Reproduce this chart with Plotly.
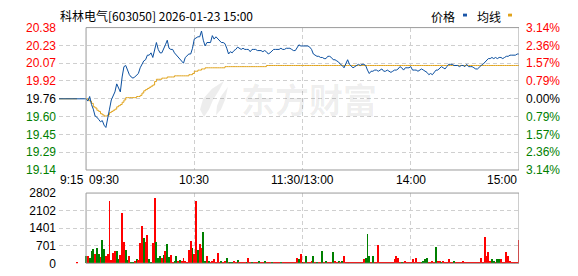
import plotly.graph_objects as go
import numpy as np

prev_close = 19.76
minutes = list(range(241))  # 0 = 09:30 ... 120 = 11:30/13:00 ... 240 = 15:00

price = [
    19.76, 19.74, 19.78, 19.71, 19.67, 19.61, 19.60, 19.58, 19.56, 19.57,
    19.53, 19.51, 19.58, 19.67, 19.75, 19.78, 19.82, 19.89, 19.86, 19.82,
    19.95, 20.04, 20.05, 20.01, 19.97, 19.95, 19.94, 19.95, 19.97, 19.98,
    20.03, 20.06, 20.09, 20.10, 20.14, 20.14, 20.16, 20.12, 20.19, 20.25,
    20.19, 20.16, 20.16, 20.19, 20.23, 20.27, 20.20, 20.19, 20.19, 20.16,
    20.14, 20.12, 20.11, 20.09, 20.07, 20.12, 20.14, 20.15, 20.15, 20.20,
    20.28, 20.29, 20.30, 20.30, 20.35, 20.27, 20.22, 20.25, 20.25, 20.25,
    20.31, 20.28, 20.30, 20.28, 20.27, 20.25, 20.25, 20.24, 20.20, 20.15,
    20.17, 20.16, 20.18, 20.19, 20.21, 20.20, 20.19, 20.20, 20.19, 20.19,
    20.19, 20.17, 20.19, 20.19, 20.19, 20.18, 20.18, 20.18, 20.17, 20.18,
    20.17, 20.15, 20.16, 20.18, 20.19, 20.19, 20.19, 20.19, 20.20, 20.19,
    20.19, 20.20, 20.20, 20.20, 20.19, 20.18, 20.18, 20.20, 20.23, 20.22,
    20.22, 20.22, 20.22, 20.22, 20.21, 20.19, 20.15, 20.14, 20.13, 20.13,
    20.12, 20.12, 20.11, 20.11, 20.13, 20.13, 20.12, 20.10, 20.10, 20.09,
    20.08, 20.06, 20.05, 20.03, 20.07, 20.10, 20.06, 20.04, 20.03, 20.04,
    20.05, 20.06, 20.05, 20.06, 20.06, 20.05, 20.01, 19.98, 20.00, 20.00,
    20.01, 20.01, 20.00, 20.01, 20.02, 20.00, 20.00, 20.01, 20.00, 19.99,
    20.00, 20.01, 20.01, 20.02, 20.04, 20.03, 20.01, 20.03, 20.03, 20.03,
    20.04, 20.01, 20.01, 20.01, 20.00, 20.01, 20.02, 20.01, 20.00, 19.99,
    19.97, 19.98, 19.97, 19.99, 20.01, 20.01, 20.03, 20.04, 20.03, 20.02,
    20.04, 20.06, 20.06, 20.06, 20.05, 20.05, 20.05, 20.04, 20.05, 20.05,
    20.04, 20.06, 20.04, 20.04, 20.04, 20.03, 20.02, 20.02, 20.04, 20.05,
    20.06, 20.08, 20.10, 20.11, 20.11, 20.12, 20.11, 20.12, 20.11, 20.12,
    20.12, 20.11, 20.12, 20.13, 20.13, 20.14, 20.14, 20.14, 20.14, 20.15,
    20.15,
]

avg = [
    19.76, 19.75, 19.74, 19.72, 19.69, 19.68, 19.66, 19.65, 19.63, 19.62,
    19.61, 19.61, 19.62, 19.64, 19.65, 19.66, 19.67, 19.69, 19.70, 19.71,
    19.73, 19.75, 19.77, 19.77, 19.77, 19.77, 19.77, 19.77, 19.78, 19.78,
    19.79, 19.81, 19.83, 19.84, 19.85, 19.86, 19.87, 19.88, 19.91, 19.93,
    19.93, 19.93, 19.94, 19.94, 19.94, 19.95, 19.95, 19.95, 19.95, 19.96,
    19.96, 19.96, 19.96, 19.96, 19.96, 19.96, 19.96, 19.97, 19.97, 19.98,
    20.00, 20.00, 20.01, 20.01, 20.02, 20.02, 20.03, 20.03, 20.03, 20.03,
    20.03, 20.03, 20.03, 20.03, 20.03, 20.03, 20.03, 20.04, 20.04, 20.04,
    20.04, 20.04, 20.04, 20.04, 20.04, 20.04, 20.04, 20.04, 20.04, 20.04,
    20.04, 20.04, 20.04, 20.04, 20.04, 20.04, 20.04, 20.04, 20.04, 20.04,
] + [20.05] * 141

vol = [
    278, 278, 227, 505, 555, 353, 606, 379, 252, 947,
    568, 303, 379, 2499, 126, 416, 505, 505, 151, 315,
    2019, 846, 530, 126, 300, 50, 50, 100, 151, 126,
    808, 1476, 1010, 833, 1136, 164, 63, 795, 2587, 833,
    190, 278, 190, 315, 505, 757, 252, 315, 63, 100,
    278, 100, 126, 100, 190, 100, 63, 530, 883, 618,
    379, 2474, 530, 757, 606, 1262, 100, 278, 100, 50,
    100, 151, 50, 416, 25, 100, 50, 100, 227, 50,
    50, 50, 100, 50, 126, 50, 50, 50, 50, 50,
    215, 50, 38, 50, 38, 50, 76, 38, 50, 76,
    38, 50, 38, 38, 50, 38, 38, 50, 38, 50,
    38, 38, 50, 38, 38, 50, 38, 227, 151, 379,
    50, 38, 278, 38, 50, 100, 303, 38, 63, 38,
    38, 480, 38, 100, 50, 38, 38, 454, 100, 38,
    100, 38, 100, 303, 38, 25, 38, 38, 38, 38,
    25, 38, 38, 38, 151, 227, 1161, 278, 25, 303,
    25, 38, 732, 38, 38, 38, 38, 38, 38, 38,
    38, 151, 303, 227, 38, 38, 25, 100, 38, 38,
    25, 151, 25, 227, 38, 38, 38, 100, 177, 227,
    38, 38, 100, 38, 631, 100, 100, 38, 100, 38,
    38, 151, 38, 38, 100, 38, 38, 38, 38, 76,
    38, 38, 38, 38, 38, 38, 38, 38, 38, 227,
    38, 1035, 278, 454, 100, 151, 100, 38, 151, 151,
    151, 38, 38, 429, 278, 100, 38, 38, 38, 38,
    947,
]

# r = up minute, g = down minute
updown = (
    "grgggrggrg" "grrrrrrggr" "rrggrggrgr" "rrgrrggrrg" "ggrgrggrrg"
    "grgrrrrrrg" "rrgrrggrgr" "rrrrrgrrgr" "ggrrgrrrrg" "rrgrrrgrrg"
    "rrrgrrrrgr" "rrrrrrrrgr" "grgrrrgrgr" "rgrgrrrgrr" "grgrrrrrrr"
    "rrrrrgggrg" "rrrrrrrrrr" "rrrrrgrrrr" "rrrrrrgggg" "rrrrgrrgrr"
    "rrrrgrrrrr" "rrrrrrrrrr" "rrrrrggrgg" "rrrrrrrrrr" "r"
)

pre_t = [-15]            # 09:15 call auction start
pre_price = [prev_close]
pre_avg_t = [-15, -5]
pre_avg = [prev_close, prev_close]
auction_t = [-5]         # 09:25
auction_vol = [38]

y_labels = ["20.38", "20.23", "20.07", "19.92", "19.76", "19.60", "19.45", "19.29", "19.14"]
pct_labels = ["3.14%", "2.36%", "1.57%", "0.79%", "0.00%", "0.79%", "1.57%", "2.36%", "3.14%"]
vol_labels = ["0", "701", "1401", "2102", "2802"]
vol_ticks = [0, 701, 1401, 2102, 2802]
x_grid = [-15, 60, 120, 180]
x_labels = [(-15, "9:15", "left"), (0, "09:30", "left"), (60, "10:30", "center"),
            (120, "11:30/13:00", "center"), (180, "14:00", "center"), (240, "15:00", "right")]

RED = "#ff0000"
GREEN = "#008000"
BLUE = "#0b4f9f"
ORANGE = "#e0a31c"
GRID = "#cfcfcf"
BORDER = "#9a9a9a"
NUMFONT = "Liberation Sans"
CJK = "Noto Sans CJK SC"
WATERMARK = "rgba(0,0,0,0.07)"

W, H = 578, 276
def px(x):
    return x / W
def py(y):
    return 1 - y / H

ymin, ymax = 19.14, 20.38
ytick_vals = list(np.linspace(ymax, ymin, 9))

def colored(txt, i):
    c = RED if i < 4 else ("#000000" if i == 4 else GREEN)
    return f'<span style="color:{c}">{txt}</span>'

fig = go.Figure()

fig.add_trace(go.Scatter(x=pre_avg_t, y=pre_avg, mode="lines",
                         line=dict(color=ORANGE, width=1), hoverinfo="skip"))
fig.add_trace(go.Scatter(x=minutes, y=avg, mode="lines",
                         line=dict(color=ORANGE, width=1, shape="hv"), hoverinfo="skip"))
fig.add_trace(go.Scatter(x=pre_t + minutes, y=pre_price + price, mode="lines",
                         line=dict(color=BLUE, width=1), hoverinfo="skip"))
# invisible companion so the right-hand percentage axis is drawn
fig.add_trace(go.Scatter(x=pre_t + minutes, y=pre_price + price, mode="lines",
                         line=dict(color="rgba(0,0,0,0)", width=0), yaxis="y2",
                         hoverinfo="skip"))

bar_colors = [RED if c == "r" else GREEN for c in updown]
fig.add_trace(go.Bar(x=auction_t + minutes, y=auction_vol + vol,
                     marker=dict(color=[RED] + bar_colors, line=dict(width=0)),
                     width=0.5, xaxis="x2", yaxis="y3", hoverinfo="skip"))

xdom = [px(59), px(519)]
fig.update_layout(
    width=W, height=H, autosize=False,
    margin=dict(l=0, r=0, t=0, b=0),
    paper_bgcolor="white", plot_bgcolor="white",
    showlegend=False, bargap=0,
    xaxis=dict(domain=xdom, range=[-15, 240], anchor="y",
               tickvals=x_grid, showticklabels=False, ticks="",
               showgrid=True, gridcolor=GRID, griddash="4px,3px", gridwidth=1,
               zeroline=False, showline=False, fixedrange=True),
    yaxis=dict(domain=[py(171.7), py(21.7)], range=[ymin, ymax], anchor="x",
               tickvals=ytick_vals, ticktext=[colored(t, i) for i, t in enumerate(y_labels)],
               tickfont=dict(family=NUMFONT, size=12), ticks="",
               showgrid=True, gridcolor=GRID, griddash="4px,3px", gridwidth=1,
               zeroline=False, showline=False, ticklabelstandoff=2),
    yaxis2=dict(overlaying="y", side="right", anchor="x", range=[ymin, ymax],
                tickvals=ytick_vals, ticktext=[colored(t, i) for i, t in enumerate(pct_labels)],
                tickfont=dict(family=NUMFONT, size=12), ticks="",
                showgrid=False, zeroline=False, showline=False, ticklabelstandoff=6),
    xaxis2=dict(domain=xdom, range=[-15, 240], anchor="y3",
                tickvals=x_grid, showticklabels=False, ticks="",
                showgrid=True, gridcolor=GRID, griddash="4px,3px", gridwidth=1,
                zeroline=False, showline=False),
    yaxis3=dict(domain=[py(270), py(196)], range=[0, 2802], anchor="x2",
                tickvals=vol_ticks, ticktext=vol_labels,
                tickfont=dict(family=NUMFONT, size=12, color="#000000"), ticks="",
                showgrid=True, gridcolor=GRID, griddash="4px,3px", gridwidth=1,
                zeroline=False, showline=False, ticklabelstandoff=2),
)

# frames around the trading session (09:30-15:00)
fig.add_shape(type="rect", xref="x", yref="y domain", x0=0, x1=240, y0=0, y1=1,
              line=dict(color=BORDER, width=1), layer="above")
fig.add_shape(type="rect", xref="x2", yref="y3 domain", x0=0, x1=240, y0=0, y1=1,
              line=dict(color=BORDER, width=1), layer="above")

# x tick labels
for t, lab, anc in x_labels:
    fig.add_annotation(x=t, xref="x", y=py(182), yref="paper", text=lab,
                       showarrow=False, xanchor=anc, yanchor="middle",
                       font=dict(family=NUMFONT, size=12, color="#000000"),
                       xshift=(-1 if anc == "left" and t < 0 else (1 if anc == "left" else 0)))

# title
fig.add_annotation(x=px(58), y=py(9), xref="paper", yref="paper",
                   text="科林电气[603050] 2026-01-23 15:00", showarrow=False,
                   xanchor="left", yanchor="middle",
                   font=dict(family=CJK, size=12, color="#000000"))

# legend
fig.add_annotation(x=px(443), y=py(9.5), xref="paper", yref="paper", text="价格",
                   showarrow=False, xanchor="center", yanchor="middle",
                   font=dict(family=CJK, size=12, color="#000000"))
fig.add_annotation(x=px(489), y=py(9.5), xref="paper", yref="paper", text="均线",
                   showarrow=False, xanchor="center", yanchor="middle",
                   font=dict(family=CJK, size=12, color="#000000"))
fig.add_shape(type="rect", xref="paper", yref="paper", x0=px(463), x1=px(467),
              y0=py(10), y1=py(7), fillcolor="#1a56a8", line=dict(width=0))
fig.add_shape(type="rect", xref="paper", yref="paper", x0=px(508), x1=px(512),
              y0=py(10), y1=py(7), fillcolor=ORANGE, line=dict(width=0))

# watermark (logo swoosh + wordmark)
logo_pts = [(224, 78), (212, 86), (203, 97), (200, 108), (204, 116),
            (209, 108), (213, 98), (219, 88)]
path = "M " + " L ".join(f"{px(x):.5f},{py(y):.5f}" for x, y in logo_pts) + " Z"
fig.add_shape(type="path", xref="paper", yref="paper", path=path,
              fillcolor=WATERMARK, line=dict(width=0))
logo_pts2 = [(228, 84), (221, 94), (217, 104), (216, 114), (221, 108), (225, 98)]
path2 = "M " + " L ".join(f"{px(x):.5f},{py(y):.5f}" for x, y in logo_pts2) + " Z"
fig.add_shape(type="path", xref="paper", yref="paper", path=path2,
              fillcolor=WATERMARK, line=dict(width=0))
fig.add_annotation(x=px(309), y=py(96), xref="paper", yref="paper", text="<b>东方财富</b>",
                   showarrow=False, xanchor="center", yanchor="middle",
                   font=dict(family=CJK, size=34, color=WATERMARK))

fig.write_html("out.html")
